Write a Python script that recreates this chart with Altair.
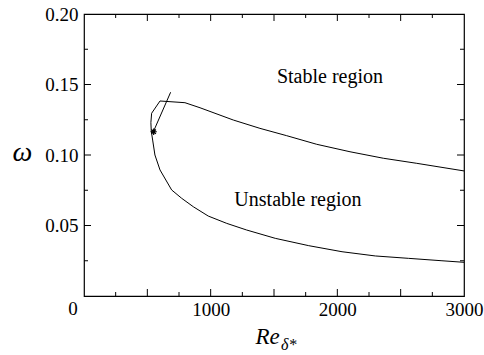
import altair as alt
import pandas as pd

# Neutral stability curve (traced in path order)
re_curve = [3000, 2627, 2363, 2100, 1837, 1600, 1389, 1179, 916, 797, 600,
            534, 528, 531, 542, 560, 600, 692, 771, 863, 981, 1127, 1284,
            1510, 1774, 2037, 2300, 2563, 2826, 3000]
omega_curve = [0.0887, 0.0941, 0.0977, 0.1023, 0.1076, 0.1137, 0.1189, 0.1248,
               0.1335, 0.1371, 0.1383, 0.1296, 0.1230, 0.1170, 0.1106, 0.1000,
               0.0894, 0.0752, 0.0693, 0.0633, 0.0567, 0.0515, 0.0468, 0.0409,
               0.0357, 0.0314, 0.0284, 0.0267, 0.0250, 0.0239]

# Straight segment through the marked point
re_seg = [545, 684]
omega_seg = [0.1160, 0.1445]

# Marked point (asterisk)
re_star = [550]
omega_star = [0.1165]

# Region labels
label_text = ["Stable region", "Unstable region"]
label_re = [1942, 1689]
label_omega = [0.151, 0.064]

# Tick positions
x_labels = [1000, 2000, 3000]
origin_label = ["0"]
y_labels = [0.05, 0.10, 0.15, 0.20]
x_ticks_major = [500, 1000, 1500, 2000, 2500]
x_ticks_minor = [250, 750, 1250, 1750, 2250, 2750]
y_ticks_major = [0.05, 0.10, 0.15]
y_ticks_minor = [0.025, 0.075, 0.125, 0.175]

W, H = 380, 282
FONT = "Liberation Serif"

xs = alt.Scale(domain=[0, 3000], nice=False, zero=False)
ys = alt.Scale(domain=[0, 0.2], nice=False, zero=False)

curve_df = pd.DataFrame({"re": re_curve, "om": omega_curve,
                         "i": list(range(len(re_curve)))})
seg_df = pd.DataFrame({"re": re_seg, "om": omega_seg, "i": [0, 1]})
star_df = pd.DataFrame({"re": re_star, "om": omega_star})
lab_df = pd.DataFrame({"t": label_text, "re": label_re, "om": label_omega})
origin_df = pd.DataFrame({"t": origin_label, "re": [0]})

x_axis = alt.Axis(
    values=x_labels, format="d", labelPadding=4,
    ticks=False, domain=False, grid=False, labelFlush=False,
    labelFont=FONT, labelFontSize=19, labelColor="black",
    titleFont=FONT, titleFontStyle="italic", titleFontWeight="normal",
    titleColor="black",
    titleX=171, titleY=47, titleAlign="left", titleBaseline="alphabetic",
    titleFontSize=23,
)
y_axis = alt.Axis(
    values=y_labels, format=".2f", labelPadding=6,
    ticks=False, domain=False, grid=False, labelFlush=False,
    labelFont=FONT, labelFontSize=19, labelColor="black",
    titleFont=FONT, titleFontStyle="italic", titleFontWeight="normal",
    titleColor="black",
    titleAngle=0, titleX=-62, titleY=146, titleAlign="center",
    titleBaseline="alphabetic", titleFontSize=28,
)


def X():
    return alt.X("re:Q", scale=xs, axis=x_axis, title="Re")


def Y():
    return alt.Y("om:Q", scale=ys, axis=y_axis, title="ω")


curve = alt.Chart(curve_df).mark_line(color="black", strokeWidth=1).encode(
    x=X(), y=Y(), order=alt.Order("i:Q"))
seg = alt.Chart(seg_df).mark_line(color="black", strokeWidth=1).encode(
    x=X(), y=Y(), order=alt.Order("i:Q"))
star = alt.Chart(star_df).mark_point(
    shape="M-1,0L1,0M0,-1L0,1M-0.7,-0.7L0.7,0.7M-0.7,0.7L0.7,-0.7",
    filled=False, stroke="black", strokeWidth=1.2, size=40, opacity=1,
).encode(x=X(), y=Y())
labels = alt.Chart(lab_df).mark_text(
    font=FONT, fontSize=20, color="black", align="center", baseline="alphabetic"
).encode(x=X(), y=Y(), text="t:N")
origin = alt.Chart(origin_df).mark_text(
    font=FONT, fontSize=19, color="black", align="center", baseline="alphabetic",
    dx=-11,
).encode(x=X(), y=alt.value(H + 19), text="t:N")


def xticks(vals, length):
    df = pd.DataFrame({"re": vals})
    bottom = alt.Chart(df).mark_rule(color="black", strokeWidth=1).encode(
        x=X(), y=alt.value(H), y2=alt.value(H - length))
    top = alt.Chart(df).mark_rule(color="black", strokeWidth=1).encode(
        x=X(), y=alt.value(0), y2=alt.value(length))
    return [bottom, top]


def yticks(vals, length):
    df = pd.DataFrame({"om": vals})
    left = alt.Chart(df).mark_rule(color="black", strokeWidth=1).encode(
        y=Y(), x=alt.value(0), x2=alt.value(length))
    right = alt.Chart(df).mark_rule(color="black", strokeWidth=1).encode(
        y=Y(), x=alt.value(W), x2=alt.value(W - length))
    return [left, right]


sub = alt.Chart(alt.Data(values=[{}])).mark_text(
    text="δ*", font=FONT, fontSize=16, fontStyle="italic", color="black",
    align="left", baseline="alphabetic",
).encode(x=alt.value(197), y=alt.value(336))

layers = ([curve, seg, star, labels, origin, sub]
          + xticks(x_ticks_major, 7) + xticks(x_ticks_minor, 4)
          + yticks(y_ticks_major, 7) + yticks(y_ticks_minor, 4))

chart = alt.layer(*layers).properties(
    width=W, height=H,
    autosize="none",
    padding={"left": 84, "top": 14, "right": 20, "bottom": 59},
    background="white",
).configure_view(
    stroke="black", strokeWidth=1.2
)

chart.save("out.html", embed_options={"renderer": "svg", "actions": False})
